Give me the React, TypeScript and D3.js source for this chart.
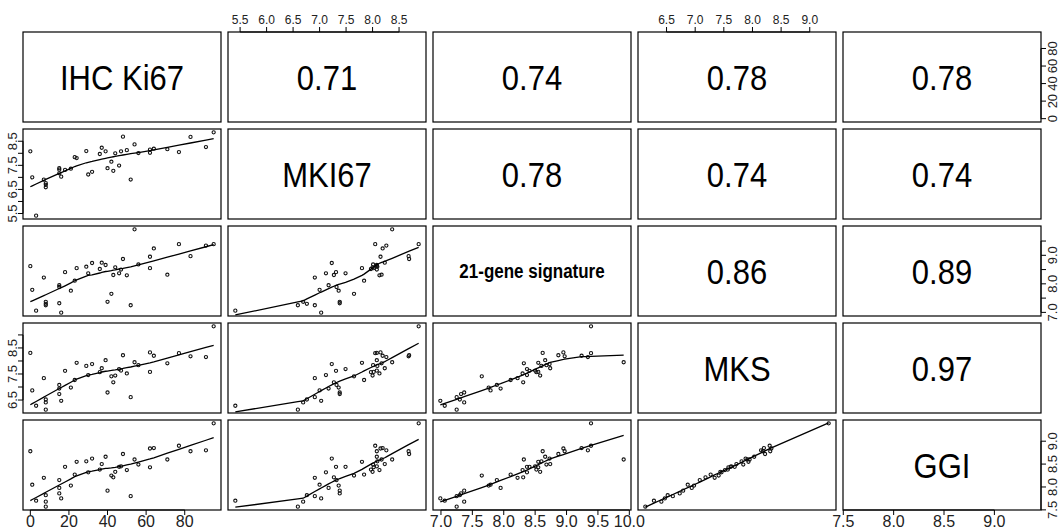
import React, { useEffect, useRef } from 'react';
import * as d3 from 'd3';

// variable names shown on the diagonal
const varNames = ['IHC Ki67', 'MKI67', '21-gene signature', 'MKS', 'GGI'];

// one value per tumour, same order in every array
const ki67 = [0, 1, 3, 7, 8, 8, 8, 15, 15, 15, 16, 18, 21, 23, 24, 29, 30, 32, 36, 37,
  39, 40, 42, 43, 44, 46, 47, 48, 50, 52, 54, 56, 62, 62, 64, 71, 77, 83, 91, 95];
const mki67 = [8.08, 7.0, 5.41, 6.91, 6.76, 6.69, 6.59, 7.38, 7.32, 7.17, 7.03, 7.31, 7.36, 7.84, 7.8, 8.09, 7.12, 7.23, 7.97, 8.23,
  8.08, 7.38, 7.65, 7.27, 8.0, 7.49, 8.08, 8.69, 8.13, 6.91, 8.37, 8.01, 8.02, 8.15, 8.19, 8.17, 8.05, 8.68, 8.26, 8.87];
const sig21 = [8.62, 7.79, 7.06, 8.22, 7.3, 7.37, 7.25, 7.32, 7.89, 7.95, 6.99, 8.41, 7.76, 8.11, 8.55, 8.6, 8.37, 8.73, 8.52, 8.74,
  8.66, 7.37, 7.65, 8.31, 8.58, 8.37, 8.5, 8.87, 8.3, 7.25, 9.91, 8.68, 8.55, 8.95, 9.24, 8.32, 9.39, 8.97, 9.34, 9.39];
const mks = [8.31, 6.87, 6.28, 7.34, 6.52, 6.41, 6.13, 6.73, 7.08, 6.94, 6.47, 7.62, 6.98, 7.27, 7.93, 7.81, 7.46, 7.88, 7.57, 7.72,
  8.03, 6.79, 7.41, 7.18, 7.44, 7.69, 7.63, 8.22, 7.52, 6.61, 7.95, 7.84, 7.58, 8.33, 8.2, 7.91, 8.3, 8.18, 8.15, 9.33];
const ggi = [8.78, 8.05, 7.7, 8.2, 7.82, 7.68, 7.57, 7.86, 8.15, 7.98, 7.75, 8.44, 8.03, 8.27, 8.55, 8.56, 8.32, 8.62, 8.38, 8.5,
  8.66, 7.92, 8.25, 8.21, 8.33, 8.44, 8.45, 8.72, 8.37, 7.8, 8.6, 8.49, 8.43, 8.84, 8.85, 8.6, 8.9, 8.78, 8.8, 9.39];

// axis ticks per variable
const ki67Ticks = [0, 20, 40, 60, 80];
const mki67Ticks = [5.5, 6.0, 6.5, 7.0, 7.5, 8.0, 8.5];
const sig21Ticks = [7.0, 7.5, 8.0, 8.5, 9.0, 9.5, 10.0];
const mksTicks = [6.5, 7.0, 7.5, 8.0, 8.5, 9.0];
const ggiTicks = [7.5, 8.0, 8.5, 9.0];

// correlations in the upper panels, row by row
const corrLabels = ['0.71', '0.74', '0.78', '0.78', '0.78', '0.74', '0.74', '0.86', '0.89', '0.97'];

// R style lowess (f = 2/3, 3 robustness iterations)
function lowess(xIn: number[], yIn: number[], f = 2 / 3, iter = 3) {
  const n = xIn.length;
  const order = d3.range(n).sort((a, b) => xIn[a] - xIn[b]);
  const x = order.map(i => xIn[i]);
  const y = order.map(i => yIn[i]);
  const ns = Math.max(2, Math.min(n, Math.floor(f * n + 1e-7)));
  const range = x[n - 1] - x[0];
  let rw = new Array(n).fill(1);
  const fit = new Array(n).fill(0);
  for (let it = 0; it <= iter; it++) {
    let nleft = 0, nright = ns - 1;
    for (let i = 0; i < n; i++) {
      while (nright < n - 1 && x[i] - x[nleft] > x[nright + 1] - x[i]) { nleft++; nright++; }
      const h = Math.max(x[i] - x[nleft], x[nright] - x[i]);
      const h9 = 0.999 * h, h1 = 0.001 * h;
      const w = new Array(n).fill(0);
      let sw = 0;
      for (let j = 0; j < n; j++) {
        const r = Math.abs(x[j] - x[i]);
        if (r <= h9) {
          w[j] = (r <= h1 ? 1 : Math.pow(1 - Math.pow(r / h, 3), 3)) * rw[j];
          sw += w[j];
        }
      }
      if (sw <= 0) { fit[i] = y[i]; continue; }
      for (let j = 0; j < n; j++) w[j] /= sw;
      if (h > 0) {
        let a = 0;
        for (let j = 0; j < n; j++) a += w[j] * x[j];
        let b = 0;
        for (let j = 0; j < n; j++) b += w[j] * (x[j] - a) * (x[j] - a);
        if (Math.sqrt(b) > 0.001 * range) {
          const bb = (x[i] - a) / b;
          for (let j = 0; j < n; j++) w[j] = w[j] * (bb * (x[j] - a) + 1);
        }
      }
      let s = 0;
      for (let j = 0; j < n; j++) s += w[j] * y[j];
      fit[i] = s;
    }
    if (it === iter) break;
    const res = y.map((v, i) => v - fit[i]);
    const cmad = 6 * (d3.median(res.map(Math.abs)) as number);
    if (cmad < 1e-7) break;
    rw = res.map(r => {
      const u = Math.abs(r) / cmad;
      if (u <= 0.001) return 1;
      if (u > 0.999) return 0;
      return (1 - u * u) * (1 - u * u);
    });
  }
  return x.map((v, i) => [v, fit[i]] as [number, number]);
}

const PairsPlot = () => {
  const ref = useRef<SVGSVGElement>(null);

  useEffect(() => {
    const svg = d3.select(ref.current);
    svg.selectAll('*').remove();

    const vars = [ki67, mki67, sig21, mks, ggi];
    const ticks = [ki67Ticks, mki67Ticks, sig21Ticks, mksTicks, ggiTicks];
    const font = 'Liberation Sans, Arial, Helvetica, sans-serif';

    // panel grid
    const left0 = 23, top0 = 32;
    const pw = 198, ph = 90;
    const colStep = 205, rowStep = 97;

    const padded = (v: number[]) => {
      const [lo, hi] = d3.extent(v) as [number, number];
      const r = hi - lo;
      return [lo - 0.04 * r, hi + 0.04 * r];
    };
    const xScales = vars.map(v => d3.scaleLinear().domain(padded(v)).range([0, pw]));
    const yScales = vars.map(v => d3.scaleLinear().domain(padded(v)).range([ph, 0]));

    // big centred text, a little taller than wide like the original device
    const bigText = (g: any, label: string, size: number, bold: boolean) => {
      g.append('text')
        .attr('transform', `translate(${pw / 2},${ph / 2}) scale(1,1.15)`)
        .attr('dy', '0.36em')
        .attr('text-anchor', 'middle')
        .style('font-family', font)
        .style('font-size', `${size}px`)
        .style('font-weight', bold ? 'bold' : 'normal')
        .text(label);
    };

    let ci = 0;
    for (let r = 0; r < 5; r++) {
      for (let c = 0; c < 5; c++) {
        const g = svg.append('g')
          .attr('transform', `translate(${left0 + c * colStep},${top0 + r * rowStep})`);

        if (r === c) {
          bigText(g, varNames[r], r === 2 ? 17 : 31, r === 2);
        } else if (r < c) {
          bigText(g, corrLabels[ci++], 31, false);
        } else {
          const xs = xScales[c], ys = yScales[r];
          const xv = vars[c], yv = vars[r];
          g.selectAll('circle')
            .data(d3.range(xv.length))
            .enter()
            .append('circle')
            .attr('cx', i => xs(xv[i]))
            .attr('cy', i => ys(yv[i]))
            .attr('r', 1.6)
            .attr('fill', 'none')
            .attr('stroke', '#111')
            .attr('stroke-width', 1.1);

          const line = d3.line<[number, number]>()
            .x(d => xs(d[0]))
            .y(d => ys(d[1]));
          g.append('path')
            .attr('d', line(lowess(xv, yv)))
            .attr('fill', 'none')
            .attr('stroke', '#000')
            .attr('stroke-width', 1.3);
        }

        g.append('rect')
          .attr('width', pw)
          .attr('height', ph)
          .attr('fill', 'none')
          .attr('stroke', '#000')
          .attr('stroke-width', 1.2);

        // axes alternate round the outside like R's pairs()
        if (r === 0 && c % 2 === 1) drawAxis(g, 'top', xScales[c], ticks[c]);
        if (r === 4 && c % 2 === 0) drawAxis(g, 'bottom', xScales[c], ticks[c]);
        if (c === 0 && r % 2 === 1) drawAxis(g, 'left', yScales[r], ticks[r]);
        if (c === 4 && r % 2 === 0) drawAxis(g, 'right', yScales[r], ticks[r]);
      }
    }

    function drawAxis(g: any, side: string, scale: any, tv: number[]) {
      const vertical = side === 'left' || side === 'right';
      const vals = vertical
        ? tv.filter(t => scale(t) >= 10 && scale(t) <= ph)
        : tv;
      const pos = vals.map(t => scale(t));
      const tl = 5;
      const stroke = '#000';
      const decimals = tv.some(v => !Number.isInteger(v));
      const ax = g.append('g');
      if (!vertical) {
        const y0 = side === 'top' ? 0 : ph;
        const dir = side === 'top' ? -1 : 1;
        ax.append('line')
          .attr('x1', d3.min(pos)).attr('x2', d3.max(pos))
          .attr('y1', y0).attr('y2', y0)
          .attr('stroke', stroke);
        pos.forEach(p => ax.append('line')
          .attr('x1', p).attr('x2', p)
          .attr('y1', y0).attr('y2', y0 + dir * tl)
          .attr('stroke', stroke));
      } else {
        const x0 = side === 'left' ? 0 : pw;
        const dir = side === 'left' ? -1 : 1;
        ax.append('line')
          .attr('y1', d3.min(pos)).attr('y2', d3.max(pos))
          .attr('x1', x0).attr('x2', x0)
          .attr('stroke', stroke);
        pos.forEach(p => ax.append('line')
          .attr('y1', p).attr('y2', p)
          .attr('x1', x0).attr('x2', x0 + dir * tl)
          .attr('stroke', stroke));
      }

      // labels: skip any that would run into the previous one
      let lastEnd = -Infinity;
      const ordered = vals.map((t, i) => ({ t, p: pos[i] }))
        .sort((a, b) => vertical ? b.p - a.p : a.p - b.p);
      ordered.forEach(({ t, p }) => {
        const txt = ax.append('text')
          .style('font-family', font)
          .attr('fill', '#222')
          .attr('text-anchor', 'middle')
          .text(decimals ? t.toFixed(1) : String(t));
        if (side === 'bottom') txt.style('font-size', '16px').attr('x', p).attr('y', ph + 17);
        if (side === 'top') txt.style('font-size', '12px').attr('x', p).attr('y', -8.5);
        if (side === 'right') txt.style('font-size', '13px')
          .attr('transform', `translate(${pw + 15.5},${p}) rotate(-90)`);
        if (side === 'left') txt.style('font-size', '13px')
          .attr('transform', `translate(${-6.5},${p}) rotate(-90)`);
        const w = (txt.node() as SVGTextElement).getComputedTextLength();
        const along = vertical ? -p : p;
        if (along - w / 2 < lastEnd + 2) { txt.remove(); return; }
        lastEnd = along + w / 2;
      });
    }
  }, []);

  return (
    <svg ref={ref} width={1060} height={529}
      style={{ position: 'absolute', left: 0, top: 0, background: '#fff' }} />
  );
};

export default function App() {
  return <PairsPlot />;
}
